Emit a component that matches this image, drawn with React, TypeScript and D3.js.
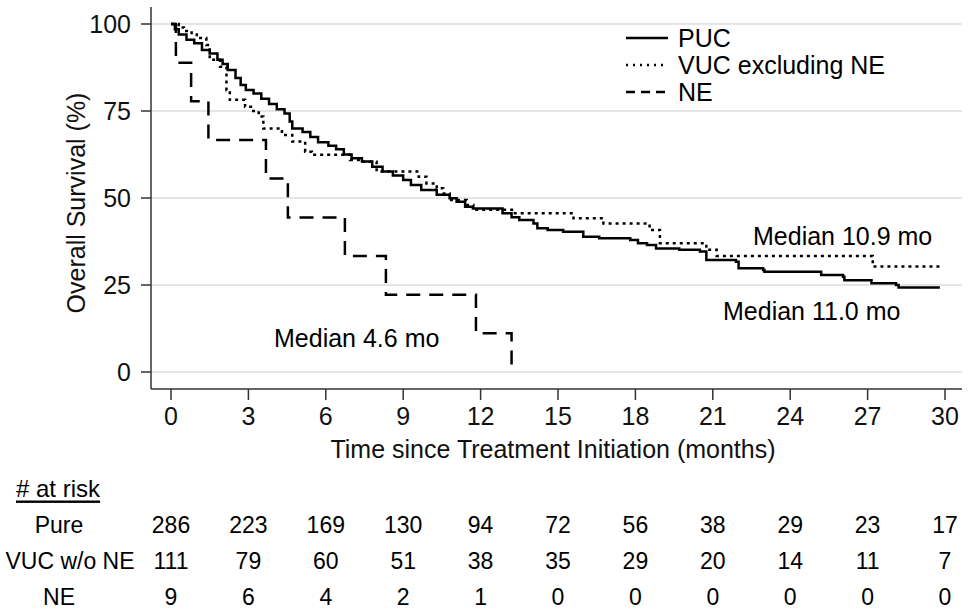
import React from "react";
import * as d3 from "d3";

// ---- Data ----
const xTicks = [0, 3, 6, 9, 12, 15, 18, 21, 24, 27, 30];
const yTicks = [0, 25, 50, 75, 100];

const pucTimes = [0, 0.15, 0.3, 0.6, 0.9, 1.2, 1.5, 1.8, 2.0, 2.2, 2.5, 2.7, 2.9, 3.2, 3.5, 3.8, 4.1, 4.4, 4.6, 4.7, 5.1, 5.4, 5.7, 6.1, 6.4, 6.7, 7.0, 7.4, 7.8, 8.2, 8.6, 9.0, 9.3, 9.7, 10.3, 10.8, 11.07, 11.4, 11.7, 12.85, 13.2, 13.5, 14.05, 14.2, 14.6, 15.2, 15.98, 16.6, 17.8, 18.1, 18.45, 18.8, 19.7, 20.5, 20.75, 21.9, 22.0, 22.95, 23.0, 25.2, 26.05, 26.1, 27.15, 28.1, 28.2, 29.8];
const pucSurv = [100, 98.5, 97, 95.5, 94.5, 92.5, 91.5, 89.7, 88.5, 86.8, 84.5, 82.5, 81, 80, 78.5, 77, 75.5, 74.3, 72, 70, 69, 67.5, 66, 65, 64, 62.5, 61.4, 60.5, 59, 57.6, 56.5, 55.2, 53.7, 52.3, 50.9, 49.9, 48.9, 47.5, 47, 45.6, 44.5, 43.7, 42.7, 41.3, 40.8, 40.3, 38.9, 38.4, 37.9, 37, 36.5, 35.5, 35.1, 34.6, 32.2, 31.7, 29.8, 29.3, 28.8, 27.9, 27.4, 26.4, 25.5, 25, 24.3, 24.3];

const vucTimes = [0, 0.3, 0.5, 0.8, 1.0, 1.37, 1.5, 1.9, 2.15, 2.28, 2.87, 3.1, 3.4, 3.58, 4.3, 4.7, 5.2, 5.46, 6.94, 7.33, 7.97, 9.6, 9.9, 10.3, 10.55, 10.8, 11.46, 11.72, 13.27, 15.6, 16.76, 18.55, 18.95, 20.75, 21.15, 27.2, 29.9];
const vucSurv = [100, 99, 98, 97, 96, 94, 89.7, 87.7, 81, 78.2, 76.2, 75, 73.4, 70, 68.1, 66.2, 63.3, 62.4, 60.9, 60.4, 57.6, 56.1, 54.2, 52.8, 51.3, 49.4, 48, 46.6, 45.6, 44.2, 42.7, 40.8, 37, 35.1, 33.3, 30.3, 30.3];

const neTimes = [0, 0.19, 0.78, 1.45, 3.68, 4.53, 6.74, 8.33, 11.82, 13.2];
const neSurv = [100, 88.9, 77.8, 66.7, 55.6, 44.4, 33.3, 22.2, 11.1, 0];

const seriesNames = ["PUC", "VUC excluding NE", "NE"];
const riskLabels = ["Pure", "VUC w/o NE", "NE"];
const riskPure = [286, 223, 169, 130, 94, 72, 56, 38, 29, 23, 17];
const riskVuc = [111, 79, 60, 51, 38, 35, 29, 20, 14, 11, 7];
const riskNe = [9, 6, 4, 2, 1, 0, 0, 0, 0, 0, 0];

const medianLabels = ["Median 10.9 mo", "Median 11.0 mo", "Median 4.6 mo"];

// ---- Layout ----
const W = 974;
const H = 614;
const FONT = "'Liberation Sans', Arial, Helvetica, sans-serif";

export default function App() {
  const x = d3.scaleLinear().domain([0, 30]).range([171, 945]);
  const y = d3.scaleLinear().domain([0, 100]).range([372, 24]);
  const axisLeft = 151;
  const axisBottom = 389;
  const plotRight = 962;
  const plotTop = 7;

  const line = d3
    .line<[number, number]>()
    .x((d) => x(d[0]))
    .y((d) => y(d[1]))
    .curve(d3.curveStepAfter);

  const zip = (t: number[], s: number[]) => t.map((tt, i) => [tt, s[i]] as [number, number]);

  const series = [
    { name: seriesNames[0], d: line(zip(pucTimes, pucSurv)), dash: undefined as string | undefined, legDash: undefined as string | undefined, w: 2.5 },
    { name: seriesNames[1], d: line(zip(vucTimes, vucSurv)), dash: "3,4", legDash: "2,5", w: 2.5 },
    { name: seriesNames[2], d: line(zip(neTimes, neSurv)), dash: "14,9", legDash: "9,6", w: 2.5 },
  ];

  const riskRows = [riskPure, riskVuc, riskNe];
  const riskY = [525, 561, 597];
  const riskLabelX = [59, 70, 59];
  const legendY = [38, 65, 92];

  return (
    <svg
      width={W}
      height={H}
      style={{ position: "absolute", left: 0, top: 0, background: "#fff" }}
      fontFamily={FONT}
    >
      <rect x={0} y={0} width={W} height={H} fill="#fff" />
      {/* gridlines */}
      {yTicks.map((t) => (
        <line key={"g" + t} x1={axisLeft} x2={plotRight} y1={y(t)} y2={y(t)} stroke="#dcdcdc" strokeWidth={1.5} />
      ))}
      {/* axes */}
      <line x1={axisLeft} x2={axisLeft} y1={plotTop} y2={axisBottom} stroke="#333" strokeWidth={1.5} />
      <line x1={axisLeft} x2={plotRight} y1={axisBottom} y2={axisBottom} stroke="#333" strokeWidth={1.5} />
      {yTicks.map((t) => (
        <g key={"yt" + t}>
          <line x1={axisLeft - 10} x2={axisLeft} y1={y(t)} y2={y(t)} stroke="#333" strokeWidth={1.5} />
          <text x={131} y={y(t)} fontSize={25} textAnchor="end" dominantBaseline="central" fill="#111">
            {t}
          </text>
        </g>
      ))}
      {xTicks.map((t) => (
        <g key={"xt" + t}>
          <line x1={x(t)} x2={x(t)} y1={axisBottom} y2={axisBottom + 11} stroke="#333" strokeWidth={1.5} />
          <text x={x(t)} y={416} fontSize={25} textAnchor="middle" dominantBaseline="central" fill="#111">
            {t}
          </text>
        </g>
      ))}
      <text x={(x(0) + x(30)) / 2 - 5} y={449} fontSize={25} textAnchor="middle" dominantBaseline="central" fill="#111">
        Time since Treatment Initiation (months)
      </text>
      <text
        transform={`translate(76, ${y(50) + 5}) rotate(-90)`}
        fontSize={25}
        textAnchor="middle"
        dominantBaseline="central"
        fill="#111"
      >
        Overall Survival (%)
      </text>

      {/* curves */}
      {series.map((s) => (
        <path key={s.name} d={s.d || ""} fill="none" stroke="#000" strokeWidth={s.w} strokeDasharray={s.dash} />
      ))}

      {/* legend */}
      {series.map((s, i) => (
        <g key={"leg" + i}>
          <line x1={626} x2={668} y1={legendY[i]} y2={legendY[i]} stroke="#000" strokeWidth={2.5} strokeDasharray={s.legDash} />
          <text x={678} y={legendY[i]} fontSize={25} dominantBaseline="central" fill="#000">
            {s.name}
          </text>
        </g>
      ))}

      {/* median labels */}
      <text x={753} y={245} fontSize={25} fill="#000">{medianLabels[0]}</text>
      <text x={723} y={320} fontSize={25} fill="#000">{medianLabels[1]}</text>
      <text x={274} y={347} fontSize={25} fill="#000">{medianLabels[2]}</text>

      {/* at risk table */}
      <text x={16} y={488} fontSize={24} dominantBaseline="central" textDecoration="underline" fill="#000">
        # at risk
      </text>
      {riskRows.map((row, r) => (
        <g key={"risk" + r}>
          <text x={riskLabelX[r]} y={riskY[r]} fontSize={23} textAnchor="middle" dominantBaseline="central" fill="#000">
            {riskLabels[r]}
          </text>
          {row.map((v, i) => (
            <text key={i} x={x(xTicks[i])} y={riskY[r]} fontSize={23} textAnchor="middle" dominantBaseline="central" fill="#000">
              {v}
            </text>
          ))}
        </g>
      ))}
    </svg>
  );
}
